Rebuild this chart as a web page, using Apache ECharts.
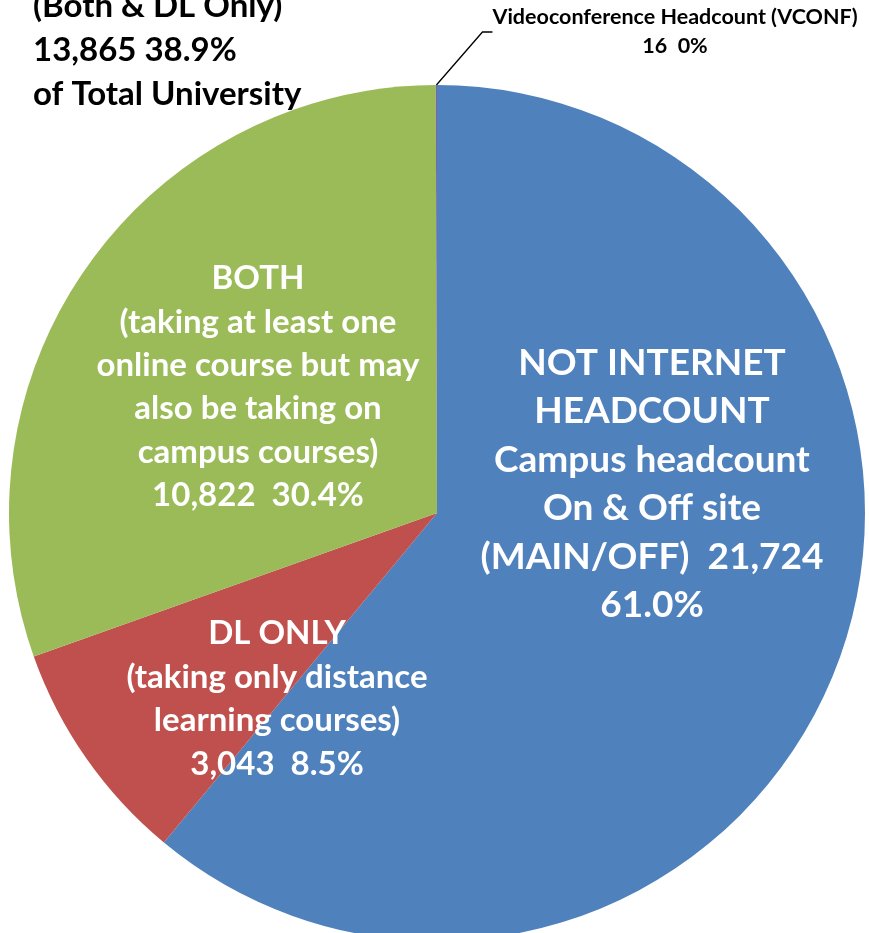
<!DOCTYPE html>
<html>
<head>
<meta charset="utf-8">
<script src="https://cdn.jsdelivr.net/npm/echarts@6/dist/echarts.min.js"></script>
<style>
html,body{margin:0;padding:0;background:#fff;}
#chart{width:869px;height:933px;}
</style>
</head>
<body>
<div id="chart"></div>
<script>
// ---- data ----
const categories = ['NOT INTERNET HEADCOUNT', 'DL ONLY', 'BOTH', 'Videoconference Headcount (VCONF)'];
const values = [21724, 3043, 10822, 16];
const valueTexts = ['21,724', '3,043', '10,822', '16'];
const percentTexts = ['61.0%', '8.5%', '30.4%', '0%'];
const descLines = [
  ['NOT INTERNET', 'HEADCOUNT', 'Campus headcount', 'On & Off site', '(MAIN/OFF)  {v}', '{p}'],
  ['DL ONLY', '(taking only distance', 'learning courses)', '{v}  {p}'],
  ['BOTH', '(taking at least one', 'online course but may', 'also be taking on', 'campus courses)', '{v}  {p}'],
  ['Videoconference Headcount (VCONF)', '{v}  {p}']
];
const totalLines = ['INTERNET HEADCOUNT', '(Both & DL Only)', '13,865 38.9%', 'of Total University'];
const colors = ['#4F81BD', '#C0504D', '#9BBB59', '#8064A2'];

// ---- styling / positions ----
const FONT = 'Lato';
const labelPos = [[652, 484], [277, 699], [258, 387], [675, 32]];
const labelSizes = [37, 33, 33, 21.5];
const lineHeights = [48.5, 43.5, 43.4, 29];

const chart = echarts.init(document.getElementById('chart'), null, {renderer: 'canvas'});

const data = categories.map((c, i) => ({
  name: c,
  value: values[i],
  itemStyle: {color: colors[i]},
  label: {
    color: i === 3 ? '#000' : '#fff',
    fontSize: labelSizes[i],
    lineHeight: lineHeights[i],
    position: i === 3 ? 'outside' : 'inside'
  },
  labelLine: {show: i === 3, length: 40, length2: 10, lineStyle: {color: '#000', width: 1.3}}
}));

chart.setOption({
  animation: false,
  backgroundColor: '#fff',
  graphic: [{
    type: 'text',
    left: 33,
    top: -60,
    style: {
      text: totalLines.join('\n'),
      fontFamily: FONT,
      fontWeight: 'bold',
      fontSize: 33,
      lineHeight: 44,
      fill: '#000'
    }
  }],
  series: [{
    type: 'pie',
    center: [437, 513],
    radius: [0, 428],
    startAngle: 90,
    clockwise: true,
    avoidLabelOverlap: false,
    itemStyle: {borderWidth: 0},
    label: {
      fontFamily: FONT,
      fontWeight: 'bold',
      align: 'center',
      formatter: p => descLines[p.dataIndex].join('\n')
        .replace('{v}', valueTexts[p.dataIndex])
        .replace('{p}', percentTexts[p.dataIndex])
    },
    labelLayout: p => ({
      x: labelPos[p.dataIndex][0],
      y: labelPos[p.dataIndex][1],
      align: 'center',
      verticalAlign: 'middle'
    }),
    data: data
  }]
});
</script>
</body>
</html>
